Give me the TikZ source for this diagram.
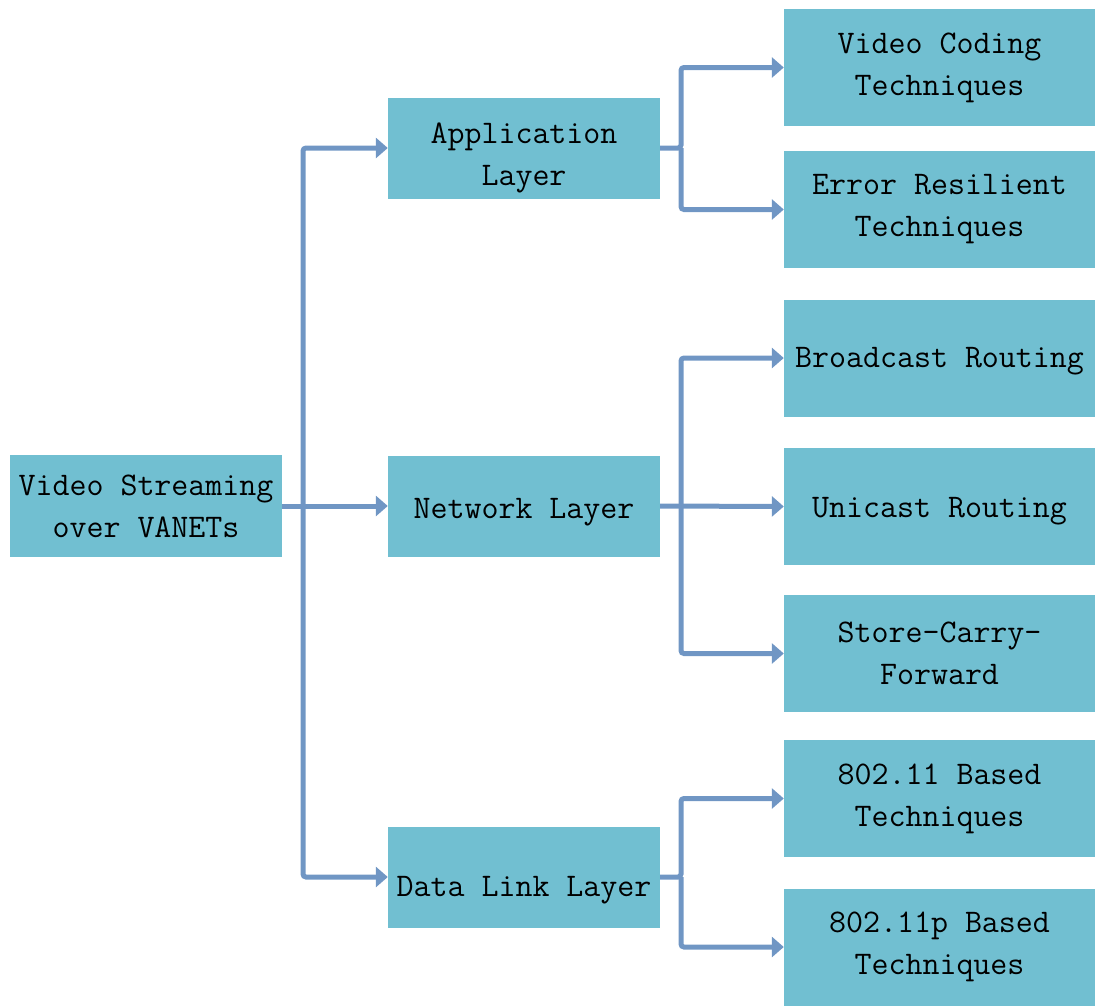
\documentclass[tikz,border=0pt]{standalone}
\usepackage{fontspec}
\usetikzlibrary{arrows.meta}
\definecolor{boxfill}{HTML}{71BFD1}
\definecolor{linkblue}{HTML}{7096C4}
\newcommand{\lift}[1]{\rule{0pt}{#1}}
\tikzset{
  box/.style={fill=boxfill, inner sep=0pt, align=center, text=black,
    font=\ttfamily\fontsize{33}{42}\selectfont},
  rootbox/.style={box, minimum width=272pt, minimum height=102pt},
  layerbox/.style={box, minimum width=272pt, minimum height=101pt},
  leafbox/.style={box, minimum width=311pt, minimum height=117pt},
  link/.style={draw=linkblue, line width=5pt, rounded corners=3pt,
    -{Triangle[length=12pt,width=20pt]}},
}
\begin{document}
\begin{tikzpicture}[x=1pt,y=-1pt]
\useasboundingbox (0,0) rectangle (1095,1005);

% root
\node[rootbox] (root) at (146,506) {Video Streaming\\over VANETs};

% layers (struts push the text a little below centre)
\node[layerbox] (app) at (524,148) {\lift{41pt}Application\\Layer};
\node[layerbox] (net) at (524,506) {\lift{33pt}Network Layer};
\node[layerbox] (dll) at (524,877) {\lift{47pt}Data Link Layer};

% techniques
\node[leafbox] (vc)  at (939.5,67.5)  {Video Coding\\Techniques};
\node[leafbox] (er)  at (939.5,209.5) {Error Resilient\\Techniques};
\node[leafbox] (bc)  at (939.5,358)   {\lift{27pt}Broadcast Routing};
\node[leafbox] (uc)  at (939.5,506.5) {\lift{29pt}Unicast Routing};
\node[leafbox] (scf) at (939.5,653.5) {Store-Carry-\\Forward};
\node[leafbox] (b1)  at (939.5,798.5) {802.11 Based\\Techniques};
\node[leafbox] (b2)  at (939.5,947)   {802.11p Based\\Techniques};

% junctions
\coordinate (j0) at (303,506);
\coordinate (j1) at (681,148);
\coordinate (j2) at (681,506);
\coordinate (j3) at (681,877);

% root to layers
\draw[link] (root.east) -- (net.west);
\draw[link] (j0) |- (app.west);
\draw[link] (j0) |- (dll.west);

% application layer
\draw[link] (app.east) -- (j1) |- (vc.west);
\draw[link] (j1) |- (er.west);

% network layer
\draw[link] (net.east) -- (uc.west);
\draw[link] (j2) |- (bc.west);
\draw[link] (j2) |- (scf.west);

% data link layer
\draw[link] (dll.east) -- (j3) |- (b1.west);
\draw[link] (j3) |- (b2.west);
\end{tikzpicture}
\end{document}
